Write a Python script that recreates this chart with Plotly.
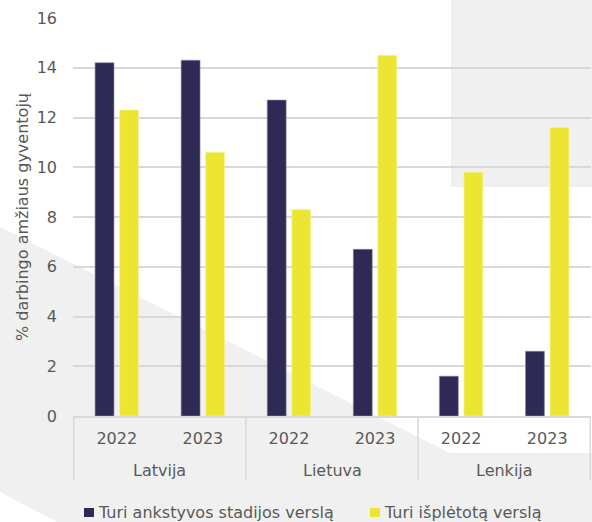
import plotly.graph_objects as go

countries = ["Latvija", "Latvija", "Lietuva", "Lietuva", "Lenkija", "Lenkija"]
years = ["2022", "2023", "2022", "2023", "2022", "2023"]
early_stage = [14.2, 14.3, 12.7, 6.7, 1.6, 2.6]
established = [12.3, 10.6, 8.3, 14.5, 9.8, 11.6]
series_names = ["Turi ankstyvos stadijos verslą", "Turi išplėtotą verslą"]
y_ticks = [0, 2, 4, 6, 8, 10, 12, 14, 16]

W, H = 592, 522
L, R, T, B = 73, 1, 18, 106
FONT = "DejaVu Sans"
TEXT = "#595959"
GRID = "#d9d9d9"
BAND = "#f0f0f0"
COLORS = ["#2f2956", "#ece633"]


def px(x, y):
    # pixel position -> paper coordinates (decorations only)
    pw, ph = W - L - R, H - T - B
    return (x - L) / pw, (H - B - y) / ph


# one slot per country/year pair
slots = [f"{c} {y}" for c, y in zip(countries, years)]

fig = go.Figure()
fig.add_trace(go.Bar(
    x=slots, y=early_stage, name=series_names[0], showlegend=False,
    marker=dict(color=COLORS[0], line=dict(color="#8a86a8", width=0.6)),
))
fig.add_trace(go.Bar(
    x=slots, y=established, name=series_names[1], showlegend=False,
    marker=dict(color=COLORS[1], line=dict(color="#f6f3a0", width=0.6)),
))

# Decorative grey shapes behind the chart
band = [(0, 227), (450, 453), (W, 453), (W, H), (57, H), (0, 492)]
path = "M " + " L ".join(f"{px(x, y)[0]:.4f},{px(x, y)[1]:.4f}" for x, y in band) + " Z"
x0, y0 = px(451, 187)
x1, y1 = px(W, 0)
shapes = [
    dict(type="path", path=path, xref="paper", yref="paper", fillcolor=BAND,
         line=dict(width=0), layer="below"),
    dict(type="rect", x0=x0, y0=y0, x1=x1, y1=y1, xref="paper", yref="paper",
         fillcolor=BAND, line=dict(width=0), layer="below"),
]

# Group dividers and group labels under the year labels
groups = []
for i, c in enumerate(countries):
    if not groups or groups[-1][0] != c:
        groups.append([c, i, i])
    else:
        groups[-1][2] = i
div_bottom = px(0, 480)[1]
edges = [g[1] - 0.5 for g in groups] + [groups[-1][2] + 0.5]
for e in edges:
    shapes.append(dict(type="line", xref="x", yref="paper", x0=e, x1=e, y0=0, y1=div_bottom,
                       line=dict(color=GRID, width=1.5)))
for name, i0, i1 in groups:
    fig.add_annotation(x=(i0 + i1) / 2, xref="x", y=px(0, 470)[1], yref="paper",
                       text=name, showarrow=False, yanchor="middle",
                       font=dict(family=FONT, size=16, color=TEXT))

# Legend drawn as coloured squares and text
legend_items = [(84, series_names[0], COLORS[0]), (370, series_names[1], COLORS[1])]
for lx, label, col in legend_items:
    sx0, sy0 = px(lx, 517)
    sx1, sy1 = px(lx + 10, 508)
    shapes.append(dict(type="rect", xref="paper", yref="paper", x0=sx0, x1=sx1, y0=sy0, y1=sy1,
                       fillcolor=col, line=dict(width=0)))
    tx, ty = px(lx + 12, 512)
    fig.add_annotation(x=tx, y=ty, xref="paper", yref="paper", text=label, showarrow=False,
                       xanchor="left", yanchor="middle",
                       font=dict(family=FONT, size=16, color=TEXT))

fig.update_layout(
    width=W, height=H,
    margin=dict(l=L, r=R, t=T, b=B, pad=0),
    paper_bgcolor="white",
    plot_bgcolor="rgba(0,0,0,0)",
    font=dict(family=FONT, size=16, color=TEXT),
    barmode="group",
    bargap=0.43,
    bargroupgap=0.23,
    showlegend=False,
    shapes=shapes,
)
fig.update_xaxes(
    type="category", categoryorder="array", categoryarray=slots,
    tickvals=slots, ticktext=years, automargin=False,
    showgrid=False, showline=True, linecolor=GRID, linewidth=1.5,
    ticks="", ticklabelstandoff=7, tickfont=dict(size=16, color=TEXT),
)
fig.update_yaxes(
    range=[0, 16], tickvals=y_ticks, automargin=False,
    showgrid=True, gridcolor=GRID, gridwidth=1.5,
    zeroline=False, showline=False, ticks="", ticklabelstandoff=15,
    tickfont=dict(size=16, color=TEXT),
    title=dict(text="% darbingo amžiaus gyventojų", font=dict(size=16, color=TEXT), standoff=4),
)

# the page has a default body margin; drop it so the figure fills the window
fig.write_html("out.html", config={"displayModeBar": False},
               post_script="document.body.style.margin='0';")
